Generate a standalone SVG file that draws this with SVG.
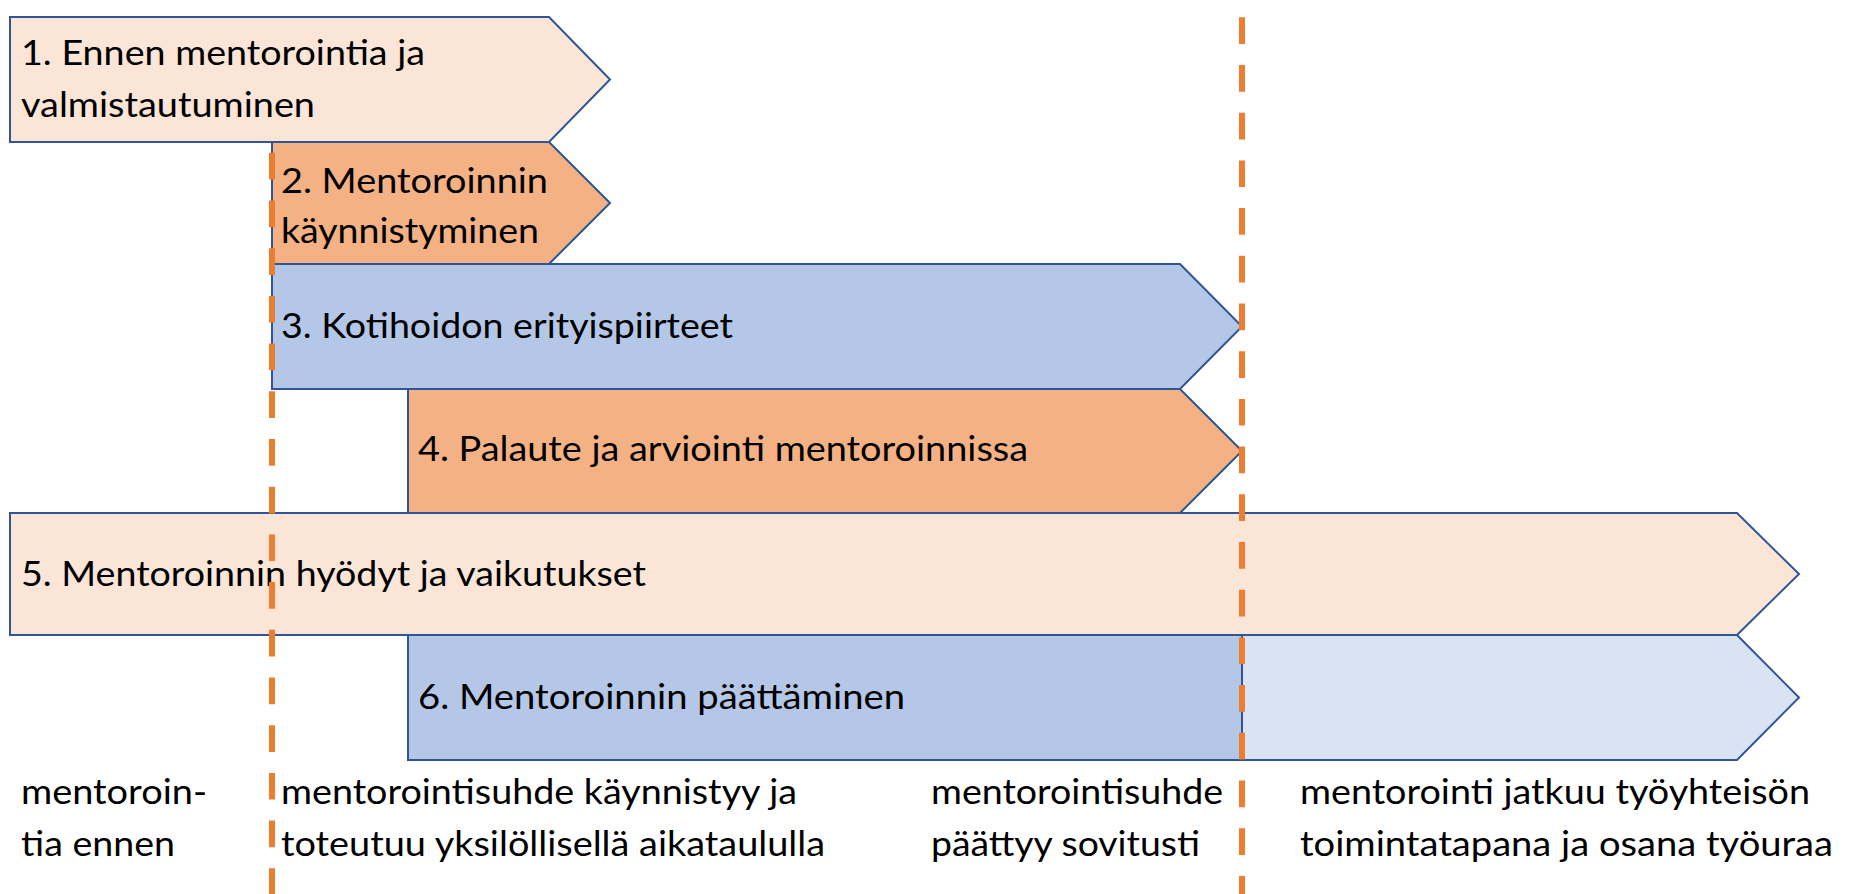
<svg xmlns="http://www.w3.org/2000/svg" width="1862" height="894" viewBox="0 0 1862 894">
<style>
.sh{stroke:#2F5597;stroke-width:2;stroke-linejoin:miter}
.peach{fill:#FBE5D6}
.orange{fill:#F4B183}
.blue{fill:#B4C7E7}
.lblue{fill:#DAE3F3}
text{font-family:Lato,"Noto Sans","Liberation Sans",sans-serif;font-size:34px;fill:#000}
.guide{stroke:#ED7D31;stroke-width:6;stroke-dasharray:26.7 21;fill:none}
</style>
<rect width="1862" height="894" fill="#fff"/>
<g id="node1">
<polygon class="sh peach" points="10,17 549,17 610,79.5 549,142 10,142"/>
<text x="21" y="65" textLength="404" lengthAdjust="spacingAndGlyphs">1. Ennen mentorointia ja</text>
<text x="21" y="117" textLength="294" lengthAdjust="spacingAndGlyphs">valmistautuminen</text>
</g>
<g id="node2">
<polygon class="sh orange" points="272,142 549,142 610,203 549,264 272,264"/>
<text x="281" y="193" textLength="267" lengthAdjust="spacingAndGlyphs">2. Mentoroinnin</text>
<text x="281" y="243" textLength="258" lengthAdjust="spacingAndGlyphs">käynnistyminen</text>
</g>
<g id="node3">
<polygon class="sh blue" points="272,264 1180,264 1242,326.5 1180,389 272,389"/>
<text x="281" y="338" textLength="452" lengthAdjust="spacingAndGlyphs">3. Kotihoidon erityispiirteet</text>
</g>
<g id="node4">
<polygon class="sh orange" points="408,389 1180,389 1242,451 1180,513 408,513"/>
<text x="418" y="461" textLength="610" lengthAdjust="spacingAndGlyphs">4. Palaute ja arviointi mentoroinnissa</text>
</g>
<g id="node5">
<polygon class="sh peach" points="10,513 1737,513 1799,574 1737,635 10,635"/>
<text x="21" y="586" textLength="625" lengthAdjust="spacingAndGlyphs">5. Mentoroinnin hyödyt ja vaikutukset</text>
</g>
<g id="node6">
<polygon class="sh lblue" points="1242,635 1737,635 1799,697.5 1737,760 1242,760"/>
<rect class="sh blue" x="408" y="635" width="834" height="125"/>
<text x="418" y="709" textLength="487" lengthAdjust="spacingAndGlyphs">6. Mentoroinnin päättäminen</text>
</g>
<g id="labels">
<text x="21" y="804" textLength="186" lengthAdjust="spacingAndGlyphs">mentoroin-</text>
<text x="21" y="856" textLength="154" lengthAdjust="spacingAndGlyphs">tia ennen</text>
<text x="281" y="804" textLength="516" lengthAdjust="spacingAndGlyphs">mentorointisuhde käynnistyy ja</text>
<text x="281" y="856" textLength="544" lengthAdjust="spacingAndGlyphs">toteutuu yksilöllisellä aikataululla</text>
<text x="931" y="804" textLength="292" lengthAdjust="spacingAndGlyphs">mentorointisuhde</text>
<text x="931" y="856" textLength="269" lengthAdjust="spacingAndGlyphs">päättyy sovitusti</text>
<text x="1300" y="804" textLength="510" lengthAdjust="spacingAndGlyphs">mentorointi jatkuu työyhteisön</text>
<text x="1300" y="856" textLength="533" lengthAdjust="spacingAndGlyphs">toimintatapana ja osana työuraa</text>
</g>
<g id="connectors">
<line class="guide" x1="272" y1="152.8" x2="272" y2="894"/>
<line class="guide" x1="1242" y1="17.3" x2="1242" y2="894"/>
</g>
</svg>
